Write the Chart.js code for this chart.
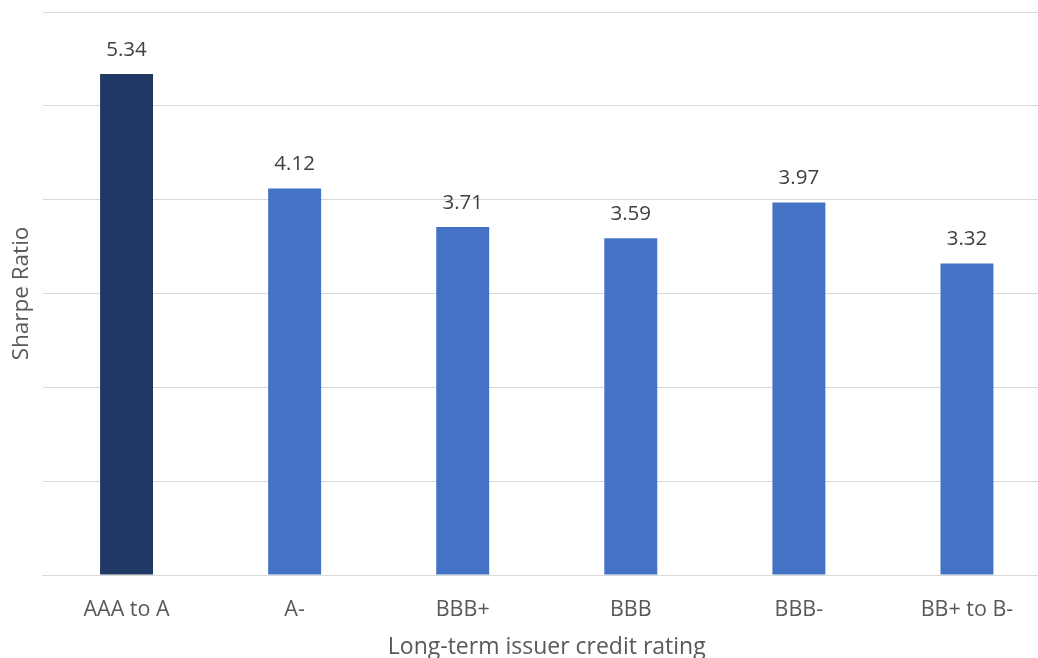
<!DOCTYPE html>
<html>
<head>
<meta charset="utf-8">
<script src="https://cdn.jsdelivr.net/npm/chart.js@4.4.0/dist/chart.umd.min.js"></script>
<style>
  html, body { margin: 0; padding: 0; background: #ffffff; overflow: hidden; }
  #wrap { position: relative; width: 1051px; height: 658px; }
</style>
</head>
<body>
<div id="wrap"><canvas id="chart"></canvas></div>
<script>
// Sharpe ratio by long-term issuer credit rating
const categories = ['AAA to A', 'A-', 'BBB+', 'BBB', 'BBB-', 'BB+ to B-'];
const sharpeRatios = [5.34, 4.12, 3.71, 3.59, 3.97, 3.32];
const barColors = ['#203864', '#4472C4', '#4472C4', '#4472C4', '#4472C4', '#4472C4'];

const textColor = '#595959';
const fontFamily = '"Open Sans", "Liberation Sans", sans-serif';

// Writes each bar's value above it
const valueLabels = {
  id: 'valueLabels',
  afterDatasetsDraw(chart) {
    const ctx = chart.ctx;
    const meta = chart.getDatasetMeta(0);
    ctx.save();
    ctx.font = '20.5px ' + fontFamily;
    ctx.fillStyle = '#404040';
    ctx.textAlign = 'center';
    ctx.textBaseline = 'alphabetic';
    meta.data.forEach((bar, i) => {
      ctx.fillText(sharpeRatios[i].toFixed(2), bar.x, bar.y - 18);
    });
    ctx.restore();
  }
};

new Chart(document.getElementById('chart'), {
  type: 'bar',
  data: {
    labels: categories,
    datasets: [{
      data: sharpeRatios,
      backgroundColor: barColors,
      borderWidth: 0,
      barPercentage: 0.315,
      categoryPercentage: 1.0
    }]
  },
  options: {
    responsive: true,
    maintainAspectRatio: false,
    animation: false,
    layout: { padding: { top: 12, right: 0, bottom: 0, left: 0 } },
    plugins: {
      legend: { display: false },
      tooltip: { enabled: false }
    },
    scales: {
      x: {
        grid: { display: false, drawTicks: false },
        border: { display: true, color: '#d9d9d9', width: 1 },
        ticks: {
          color: textColor,
          font: { family: fontFamily, size: 21.5 },
          padding: 22,
          maxRotation: 0
        },
        title: {
          display: true,
          text: 'Long-term issuer credit rating',
          color: textColor,
          font: { family: fontFamily, size: 23 },
          padding: { top: 0, bottom: -3 }
        },
        afterFit(scale) { scale.height = 83; }
      },
      y: {
        min: 0,
        max: 6,
        ticks: { display: false, stepSize: 1 },
        grid: { color: '#d9d9d9', lineWidth: 1, drawTicks: false },
        border: { display: false },
        title: {
          display: true,
          text: 'Sharpe Ratio',
          color: textColor,
          font: { family: fontFamily, size: 22.5 },
          padding: { top: 8.5, bottom: 0 }
        },
        afterFit(scale) { scale.width = 42.5; }
      }
    }
  },
  plugins: [valueLabels]
});
</script>
</body>
</html>
